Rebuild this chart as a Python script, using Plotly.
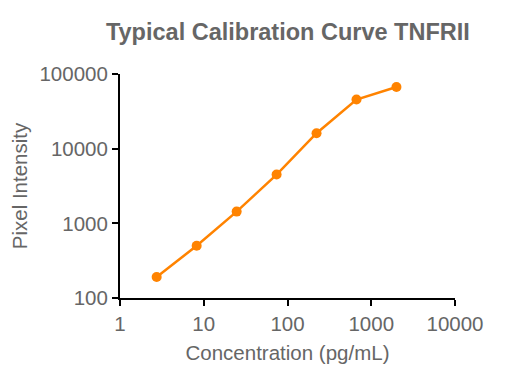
import plotly.graph_objects as go

concentration = [2.74, 8.23, 24.7, 74.1, 222.2, 666.7, 2000]
pixel_intensity = [191, 502, 1435, 4500, 16100, 45500, 67000]

x_tickvals = [1, 10, 100, 1000, 10000]
x_ticktext = ["1", "10", "100", "1000", "10000"]
y_tickvals = [100, 1000, 10000, 100000]
y_ticktext = ["100", "1000", "10000", "100000"]

gray = "#666666"
orange = "#ff8300"
font_family = "Liberation Sans, Arial, sans-serif"

fig = go.Figure(
    go.Scatter(
        x=concentration, y=pixel_intensity, mode="lines+markers",
        line=dict(color=orange, width=2.5),
        marker=dict(color=orange, size=10),
        showlegend=False,
    )
)

fig.update_layout(
    width=502, height=374,
    margin=dict(l=112, r=55, t=66, b=84),
    paper_bgcolor="white", plot_bgcolor="white",
    font=dict(family=font_family, color=gray, size=20),
    title=dict(
        text="<b>Typical Calibration Curve TNFRII</b>",
        x=0.5575, xanchor="center", y=0.936, yanchor="middle",
        font=dict(size=23.5, color=gray, family=font_family),
    ),
)

fig.update_xaxes(
    type="log", range=[0, 4], automargin=False,
    tickvals=x_tickvals, ticktext=x_ticktext,
    showgrid=False, zeroline=False,
    showline=True, linecolor="black", linewidth=2,
    ticks="outside", ticklen=6, tickwidth=2, tickcolor="black",
    tickfont=dict(size=20.5, color=gray),
    title=dict(text="Concentration (pg/mL)", font=dict(size=20.5, color=gray), standoff=12),
)
fig.update_yaxes(
    type="log", range=[2, 5], automargin=False,
    tickvals=y_tickvals, ticktext=y_ticktext,
    showgrid=False, zeroline=False,
    showline=True, linecolor="black", linewidth=2,
    ticks="outside", ticklen=6, tickwidth=2, tickcolor="black",
    tickfont=dict(size=20.5, color=gray),
    title=dict(text="Pixel Intensity", font=dict(size=20.5, color=gray), standoff=13),
)

fig.write_html("out.html")
